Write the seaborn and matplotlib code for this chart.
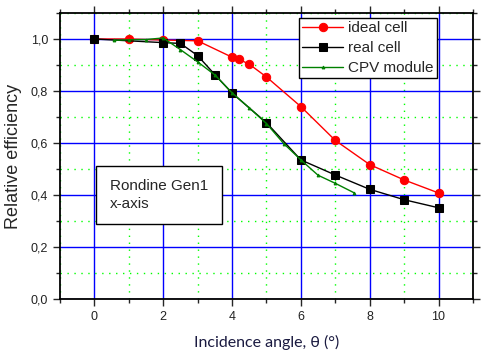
import numpy as np
import pandas as pd
import matplotlib
matplotlib.use('Agg')
import matplotlib.pyplot as plt
from matplotlib.ticker import MultipleLocator, FuncFormatter
import seaborn as sns

# ---- data ----
ideal_x = [0, 1, 2, 3, 4, 4.2, 4.5, 5, 6, 7, 8, 9, 10]
ideal_y = [1.0, 1.0, 0.996, 0.993, 0.930, 0.922, 0.903, 0.854, 0.740, 0.610, 0.517, 0.458, 0.408]

real_x = [0, 2, 2.5, 3, 3.5, 4, 5, 6, 7, 8, 9, 10]
real_y = [1.0, 0.986, 0.983, 0.936, 0.863, 0.792, 0.678, 0.535, 0.477, 0.422, 0.382, 0.351]

cpv_x = [0.56, 1.0, 1.5, 2.0, 2.5, 3.0, 3.5, 4.0, 4.5, 5.0, 5.5, 6.0, 6.5, 7.0, 7.54]
cpv_y = [0.995, 0.997, 0.998, 1.004, 0.959, 0.912, 0.862, 0.793, 0.735, 0.675, 0.598, 0.535, 0.476, 0.445, 0.409]

sns.set_style('ticks')
plt.rcParams['font.family'] = ['DejaVu Sans']

fig = plt.figure(figsize=(4.83, 3.51), dpi=100)
ax = fig.add_axes([0.1242, 0.148, 0.855, 0.815])

ax.set_xlim(-1, 11)
ax.set_ylim(0, 1.1)
ax.xaxis.set_major_locator(MultipleLocator(2))
ax.xaxis.set_minor_locator(MultipleLocator(1))
ax.yaxis.set_major_locator(MultipleLocator(0.2))
ax.yaxis.set_minor_locator(MultipleLocator(0.1))
ax.grid(which='major', color='#0000FF', linestyle='-', linewidth=1)
ax.grid(which='minor', color='#00FF00', linestyle=(0, (1, 4)), linewidth=1)
ax.set_axisbelow(True)

sns.lineplot(x=ideal_x, y=ideal_y, ax=ax, color='#FF0000', marker='o', markersize=6,
             markeredgecolor='#FF0000', linewidth=1, sort=False, label='ideal cell')
sns.lineplot(x=real_x, y=real_y, ax=ax, color='black', marker='s', markersize=5.5,
             markeredgecolor='black', linewidth=1, sort=False, label='real cell')
sns.lineplot(x=cpv_x, y=cpv_y, ax=ax, color='#008000', marker='^', markersize=2,
             markeredgecolor='#008000', linewidth=1, sort=False, label='CPV module')

leg = ax.legend(loc='upper right', bbox_to_anchor=(0.912, 0.983), fontsize=11,
                frameon=True, fancybox=False, framealpha=1, edgecolor='black',
                borderpad=0.2, labelspacing=0.4, handlelength=2.7, handletextpad=0.3,
                borderaxespad=0)
leg.get_frame().set_linewidth(1)
for t in leg.get_texts():
    t.set_family(['Liberation Sans', 'DejaVu Sans'])

ax.text(0.12, 0.364, 'Rondine Gen1\nx-axis', fontsize=11, family=['Liberation Sans', 'DejaVu Sans'],
        va='center', ha='left', linespacing=1.3, transform=ax.transAxes,
        bbox=dict(boxstyle='square,pad=0.9', facecolor='white', edgecolor='black', linewidth=1))

fmt = FuncFormatter(lambda v, p: f'{v:.1f}'.replace('.', ','))
ax.yaxis.set_major_formatter(fmt)
ax.xaxis.set_major_formatter(FuncFormatter(lambda v, p: f'{v:.0f}'))

ax.tick_params(which='both', direction='out', labelsize=9, width=1, top=True, right=True)
ax.tick_params(which='major', length=5)
ax.tick_params(which='minor', length=3)
for lab in ax.get_xticklabels() + ax.get_yticklabels():
    lab.set_family(['Liberation Sans', 'DejaVu Sans'])
    lab.set_color('#222222')

for s in ax.spines.values():
    s.set_linewidth(1.3)
    s.set_color('black')

ax.set_ylabel('Relative efficiency', fontsize=13, family=['Liberation Sans', 'DejaVu Sans'], labelpad=6)
ax.set_xlabel('Incidence angle, θ (°)', fontsize=11.5, family=['Lato', 'DejaVu Sans'],
              color='#1a1a40', labelpad=9)

plt.savefig('out.png', dpi=100)
